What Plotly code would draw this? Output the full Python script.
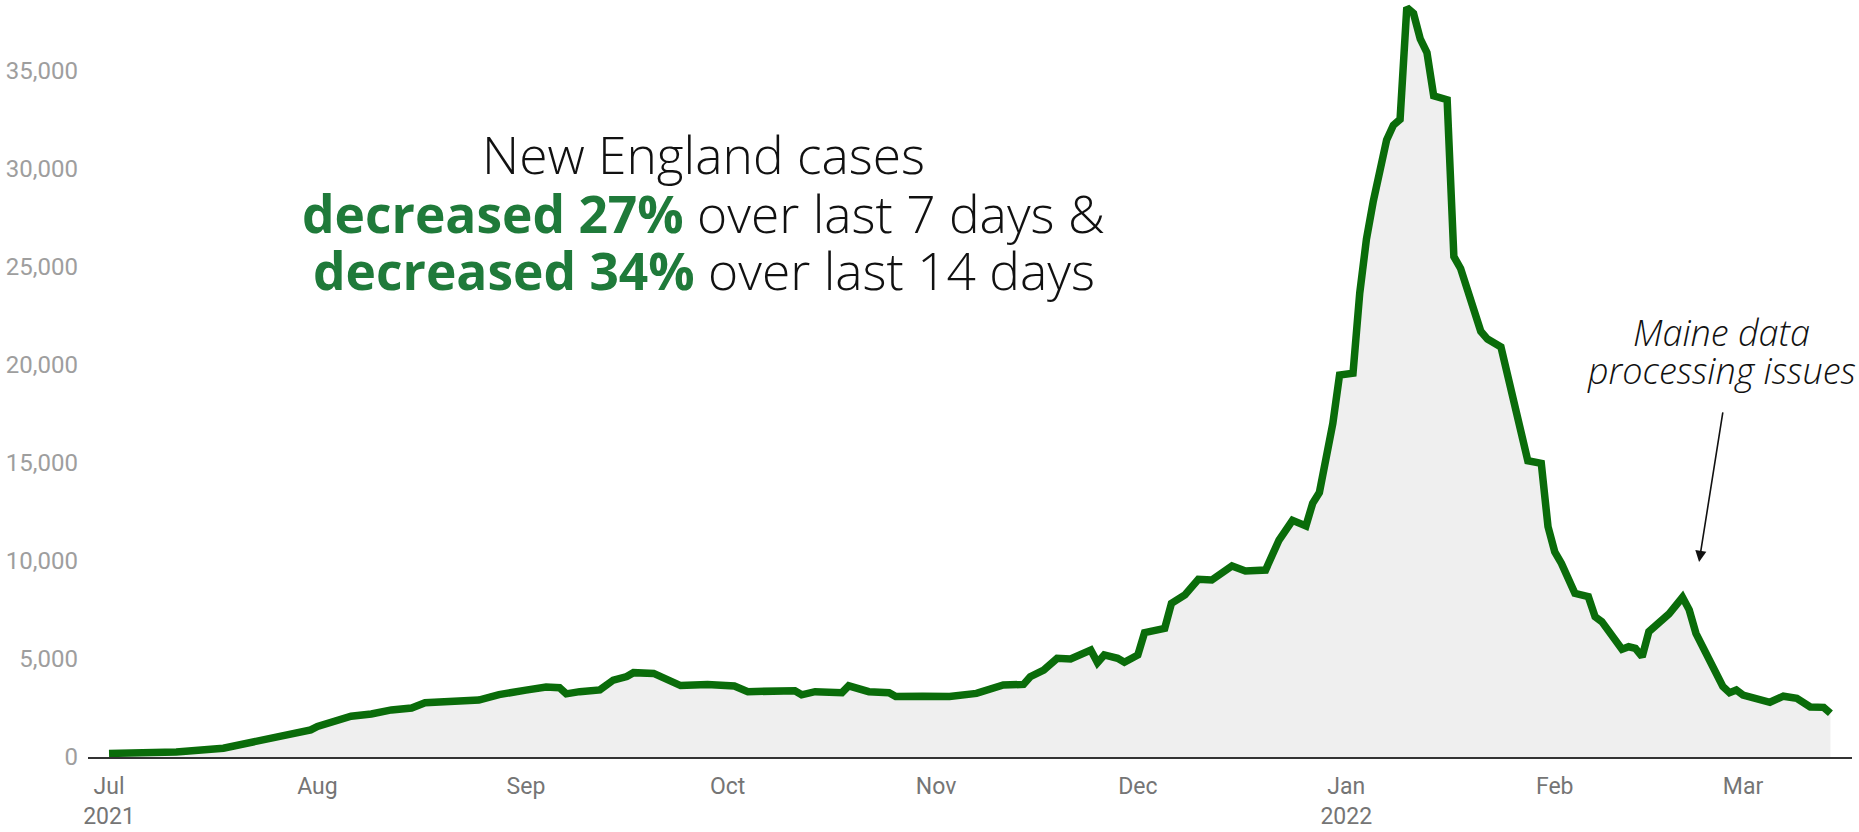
import plotly.graph_objects as go

# ---- data ----
dates = [
    "2021-07-01", "2021-07-11", "2021-07-18", "2021-07-24", "2021-07-31",
    "2021-08-01", "2021-08-06", "2021-08-09", "2021-08-12", "2021-08-15", "2021-08-17", "2021-08-25", "2021-08-28",
    "2021-09-01", "2021-09-04", "2021-09-06", "2021-09-07", "2021-09-09", "2021-09-12", "2021-09-14", "2021-09-16",
    "2021-09-17", "2021-09-20", "2021-09-24", "2021-09-28",
    "2021-10-02", "2021-10-04", "2021-10-11", "2021-10-12", "2021-10-14", "2021-10-18", "2021-10-19", "2021-10-22",
    "2021-10-25", "2021-10-26", "2021-10-30",
    "2021-11-03", "2021-11-07", "2021-11-11", "2021-11-14", "2021-11-15", "2021-11-17", "2021-11-19", "2021-11-21",
    "2021-11-24", "2021-11-25", "2021-11-26", "2021-11-28", "2021-11-29",
    "2021-12-01", "2021-12-02", "2021-12-05", "2021-12-06", "2021-12-08", "2021-12-10", "2021-12-12", "2021-12-15",
    "2021-12-17", "2021-12-20", "2021-12-22", "2021-12-24", "2021-12-26", "2021-12-27", "2021-12-28", "2021-12-29",
    "2021-12-30", "2021-12-31",
    "2022-01-02", "2022-01-03", "2022-01-04", "2022-01-05", "2022-01-07", "2022-01-08", "2022-01-09", "2022-01-10",
    "2022-01-11", "2022-01-12", "2022-01-13", "2022-01-14", "2022-01-16", "2022-01-17", "2022-01-18", "2022-01-21",
    "2022-01-22", "2022-01-24", "2022-01-26", "2022-01-28", "2022-01-30", "2022-01-31",
    "2022-02-01", "2022-02-02", "2022-02-04", "2022-02-06", "2022-02-07", "2022-02-08", "2022-02-11", "2022-02-12",
    "2022-02-13", "2022-02-14", "2022-02-15", "2022-02-18", "2022-02-20", "2022-02-21", "2022-02-22", "2022-02-26",
    "2022-02-27", "2022-02-28",
    "2022-03-01", "2022-03-05", "2022-03-07", "2022-03-09", "2022-03-11", "2022-03-13", "2022-03-14",
]
cases = [
    180, 260, 450, 900, 1380,
    1560, 2080, 2190, 2400, 2500, 2770, 2900, 3180,
    3410, 3570, 3530, 3220, 3330, 3420, 3920, 4100,
    4300, 4260, 3640, 3700,
    3620, 3330, 3380, 3170, 3330, 3280, 3630, 3330,
    3280, 3080, 3100,
    3080, 3240, 3670, 3700, 4090, 4430, 5030, 5000,
    5450, 4810, 5200, 5030, 4830,
    5200, 6340, 6560, 7830, 8260, 9060, 9020, 9740,
    9480, 9530, 11060, 12060, 11780, 12930, 13480, 15400,
    17000, 19470,
    19560, 23640, 26400, 28300, 31450, 32200, 32500, 38200,
    37900, 36600, 35900, 33700, 33500, 25500, 24900, 21700,
    21300, 20900, 17900, 15100, 14970, 11740,
    10460, 9870, 8340, 8170, 7150, 6900, 5490, 5620,
    5540, 5110, 6390, 7300, 8140, 7500, 6300, 3600,
    3280, 3415,
    3160, 2790, 3100, 2990, 2550, 2530, 2230,
]
assert len(dates) == len(cases)

x_tick_vals = ["2021-07-01", "2021-08-01", "2021-09-01", "2021-10-01", "2021-11-01",
               "2021-12-01", "2022-01-01", "2022-02-01", "2022-03-01"]
x_tick_text = ["Jul<br>2021", "Aug", "Sep", "Oct", "Nov", "Dec", "Jan<br>2022", "Feb", "Mar"]
y_tick_vals = [0, 5000, 10000, 15000, 20000, 25000, 30000, 35000]

headline = [
    "New England cases",
    "<b><span style='color:#1f7a3a'>decreased 27%</span></b> over last 7 days &",
    "<b><span style='color:#1f7a3a'>decreased 34%</span></b> over last 14 days",
]
note = ["Maine data", "processing issues"]

# ---- figure ----
fig = go.Figure()
fig.add_trace(go.Scatter(
    x=dates, y=cases, mode="lines",
    line=dict(color="#0a6c0a", width=7.5),
    fill="tozeroy", fillcolor="#efefef",
    hoverinfo="skip",
))

annotations = []
for txt, yp in zip(headline, [0.796, 0.7185, 0.643]):
    annotations.append(dict(
        text=txt, xref="paper", yref="paper", x=0.349, y=yp,
        xanchor="center", yanchor="middle", showarrow=False,
        font=dict(family="Open Sans", size=51.5, color="#111111", weight=300),
    ))
for txt, yp in zip(note, [0.561, 0.511]):
    annotations.append(dict(
        text=txt, xref="paper", yref="paper", x=0.926, y=yp,
        xanchor="center", yanchor="middle", showarrow=False,
        font=dict(family="Open Sans", size=36, color="#111111", style="italic", weight=300),
    ))
annotations.append(dict(
    text="", xref="paper", yref="paper", x=0.9133, y=0.2576,
    ax=24, ay=-151, showarrow=True, arrowhead=2, arrowsize=1.4,
    arrowwidth=1.6, arrowcolor="#111111",
))

fig.update_layout(
    width=1859, height=832,
    margin=dict(l=88, r=7, t=0, b=75),
    paper_bgcolor="white", plot_bgcolor="white",
    showlegend=False,
    annotations=annotations,
    xaxis=dict(
        type="date",
        range=["2021-06-27 21:00", "2022-03-17 05:00"],
        tickmode="array", tickvals=x_tick_vals, ticktext=x_tick_text,
        showgrid=False, zeroline=False,
        showline=True, linecolor="#333333", linewidth=2,
        ticks="", ticklabelstandoff=7,
        tickfont=dict(family="Roboto", size=23, color="#757575"),
    ),
    yaxis=dict(
        range=[0, 38584],
        tickmode="array", tickvals=y_tick_vals, tickformat=",d",
        showgrid=False, zeroline=False, showline=False,
        ticks="", ticklabelstandoff=9,
        tickfont=dict(family="Roboto", size=24, color="#9e9e9e"),
    ),
)

fig.write_html(
    "out.html",
    config={"displayModeBar": False},
    post_script="document.body.style.margin='0';document.body.style.overflow='hidden';",
)
